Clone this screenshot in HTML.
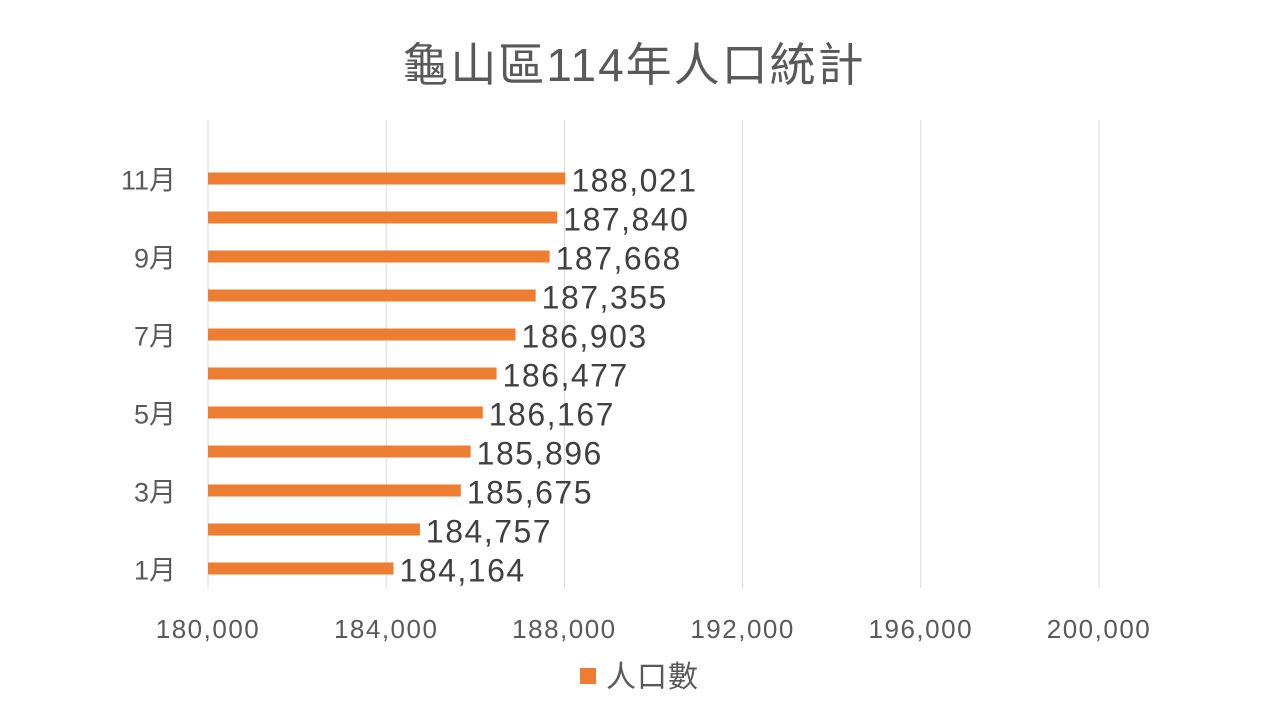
<!DOCTYPE html>
<html><head><meta charset="utf-8"><style>
html,body{margin:0;padding:0;background:#fff;}
svg{display:block;font-family:"Liberation Sans","Noto Sans CJK TC",sans-serif;}
</style></head><body>
<svg id="chart" width="1280" height="720">
<text x="634" y="81" text-anchor="middle" font-size="46" letter-spacing="2" fill="#595959">龜山區114年人口統計</text>
<g id="grid"></g><g id="bars"></g><g id="labels"></g><g id="axes"></g>
<g>
<rect x="580" y="668" width="16" height="16" fill="#ED7D31"></rect>
<text x="606" y="687" font-size="30" letter-spacing="1" fill="#595959">人口數</text>
</g>
</svg>
<script>
const categories=["1月","2月","3月","4月","5月","6月","7月","8月","9月","10月","11月","12月"];
const values=[184164,184757,185675,185896,186167,186477,186903,187355,187668,187840,188021,null];
const shownCategoryLabels=["1月","3月","5月","7月","9月","11月"];
const xTicks=[180000,184000,188000,192000,196000,200000];
const NS="http://www.w3.org/2000/svg";
const x0=208,x1=1099,yTop=120,yBot=588,xMin=180000,xMax=200000;
const band=(yBot-yTop)/categories.length;
const xs=v=>x0+(v-xMin)/(xMax-xMin)*(x1-x0);
const yc=i=>yBot-band*(i+0.5);
const fmt=v=>v.toLocaleString("en-US");
function mk(tag,attrs,parent,txt){const e=document.createElementNS(NS,tag);for(const k in attrs)e.setAttribute(k,attrs[k]);if(txt!==undefined)e.textContent=txt;document.getElementById(parent).appendChild(e);return e;}
xTicks.forEach(t=>{
 const g=mk("line",{x1:xs(t),x2:xs(t),y1:yTop,y2:yBot,stroke:"#d9d9d9","stroke-width":1},"grid");
 
 
 const l=mk("text",{x:xs(t),y:638,"text-anchor":"middle","font-size":26,"letter-spacing":1.5,fill:"#595959"},"axes",fmt(t));
 
 
});
categories.forEach((c,i)=>{
 if(shownCategoryLabels.includes(c)){
  const t=mk("text",{x:176,y:yc(i)+11,"text-anchor":"end","font-size":27,fill:"#595959"},"axes",c);
  
  
 }
 const v=values[i];
 if(v==null)return;
 const r=mk("rect",{x:x0,y:yc(i)-6,width:xs(v)-x0,height:12,fill:"#ED7D31"},"bars");
 
 
 const lb=mk("text",{x:xs(v)+6,y:yc(i)+13,"font-size":32,"letter-spacing":1.5,fill:"#404040"},"labels",fmt(v));
 
 
});
</script>
</body></html>
